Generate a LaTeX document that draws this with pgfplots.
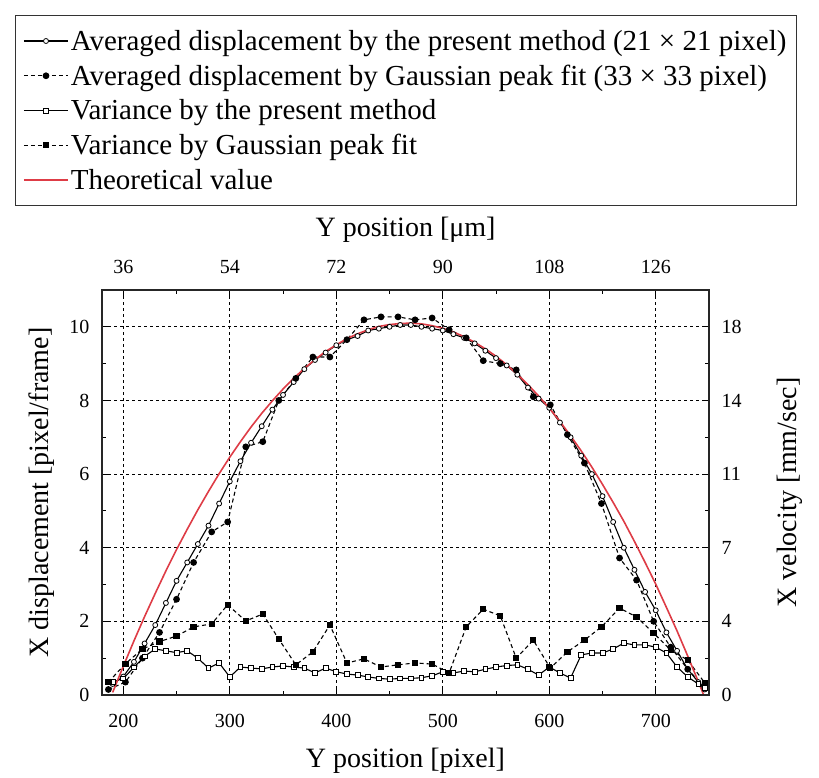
\documentclass[border=0pt]{standalone}
\usepackage{fontspec}
\setmainfont{Liberation Serif}
\usepackage{pgfplots}
\pgfplotsset{compat=1.18}
\definecolor{theo}{RGB}{222,60,70}

\begin{document}
\begin{tikzpicture}
\useasboundingbox (0,0) rectangle (819pt,778pt);
\pgfplotsset{
  common/.style={
    at={(102pt,83pt)}, anchor=south west,
    scale only axis, width=607pt, height=405pt,
    xmin=180, xmax=750, ymin=0, ymax=11,
    xtick={200,300,...,700}, ytick={0,2,...,10},
    minor x tick num=1, minor y tick num=1,
    tick align=inside,
    major tick length=6pt, minor tick length=4pt,
    every tick/.style={black, line width=1pt},
    axis line style={line width=1.5pt, black!85},
    tick label style={font=\fontsize{20}{23}\selectfont},
    label style={font=\fontsize{28}{32}\selectfont},
    /pgf/number format/assume math mode=true,
  },
}
\begin{axis}[common,
  xtick pos=bottom, ytick pos=left,
  xticklabel shift=16pt, yticklabel shift=9pt,
  grid=major,
  major grid style={black, line width=0.8pt, dash pattern=on 3pt off 3pt},
  xlabel={Y position [pixel]},
  ylabel={X displacement [pixel/frame]},
  xlabel style={at={(axis description cs:0.5,-0.162)}, anchor=center},
  ylabel style={at={(axis description cs:-0.099,0.5)}, anchor=center},
  legend cell align=left,
  legend style={at={(axis description cs:-0.144,1.68)}, anchor=north west,
    draw=black!80, line width=1.2pt,
    font=\fontsize{29}{32}\selectfont, inner xsep=8pt, inner ysep=13pt,
    row sep=9pt},
  legend image code/.code={
    \draw[mark repeat=2, mark phase=2] plot coordinates {(0pt,0pt) (22pt,0pt) (44pt,0pt)};},
]
\addplot[black, line width=1.1pt, mark=*, mark size=2.5pt, mark options={solid, fill=white, line width=0.8pt}]
coordinates {
(190,0.3) (200,0.5) (210,0.9) (220,1.4) (230,1.9) (240,2.5) (250,3.1) (260,3.6)
(270,4.1) (280,4.6) (290,5.2) (300,5.8) (310,6.35) (320,6.85) (330,7.3) (340,7.75)
(350,8.15) (360,8.5) (370,8.85) (380,9.1) (390,9.3) (400,9.5) (410,9.65) (420,9.75)
(430,9.9) (440,9.95) (450,10.0) (460,10.05) (470,10.05) (480,10.0) (490,9.95) (500,9.9)
(510,9.8) (520,9.7) (530,9.55) (540,9.35) (550,9.15) (560,8.95) (570,8.7) (580,8.35)
(590,8.05) (600,7.8) (610,7.4) (620,7.0) (630,6.5) (640,6.0) (650,5.4) (660,4.7)
(670,4.0) (680,3.4) (690,2.8) (700,2.3) (710,1.7) (720,1.2) (730,0.7) (740,0.35) (746,0.15)
};
\addlegendentry{Averaged displacement by the present method (21 × 21 pixel)}

\addplot[black, line width=1.1pt, dash pattern=on 4pt off 3pt, mark=*, mark size=2.8pt, mark options={solid, fill=black}]
coordinates {
(186,0.15) (202,0.35) (218,1.0) (234,1.7) (250,2.6) (266,3.6) (283,4.43) (298,4.7)
(315,6.74) (331,6.88) (346,8.0) (362,8.6) (378,9.18) (394,9.18) (410,9.65) (426,10.19)
(442,10.27) (458,10.27) (474,10.19) (490,10.24) (506,9.92) (522,9.70) (538,9.08) (554,9.0)
(569,8.83) (585,8.1) (601,7.88) (617,7.07) (633,6.3) (649,5.2) (666,3.72) (682,3.12)
(698,2.0) (714,1.3) (730,0.7) (746,0.2)
};
\addlegendentry{Averaged displacement by Gaussian peak fit (33 × 33 pixel)}

\addplot[black, line width=1.1pt, mark=square*, mark size=2.4pt, mark options={solid, fill=white, line width=0.8pt}]
coordinates {
(190,0.35) (200,0.45) (210,0.75) (220,1.05) (230,1.25) (240,1.2) (250,1.15) (260,1.2)
(270,1.0) (280,0.73) (290,0.87) (300,0.49) (310,0.76) (320,0.73) (330,0.71) (340,0.76)
(350,0.79) (360,0.76) (370,0.73) (380,0.6) (390,0.73) (400,0.63) (410,0.57) (420,0.54)
(430,0.49) (440,0.45) (450,0.43) (460,0.45) (470,0.45) (480,0.47) (490,0.52) (500,0.63)
(510,0.6) (520,0.65) (530,0.63) (540,0.7) (550,0.76) (560,0.8) (570,0.82) (580,0.7)
(590,0.54) (600,0.76) (610,0.6) (620,0.46) (630,1.09) (640,1.14) (650,1.14) (660,1.25)
(670,1.41) (680,1.36) (690,1.36) (700,1.3) (710,1.14) (720,0.76) (730,0.49) (740,0.3) (746,0.19)
};
\addlegendentry{Variance by the present method}

\addplot[black, line width=1.1pt, dash pattern=on 4pt off 3pt, mark=square*, mark size=2.6pt, mark options={solid, fill=black}]
coordinates {
(186,0.35) (202,0.85) (218,1.25) (234,1.45) (250,1.6) (266,1.85) (283,1.93) (298,2.45)
(315,2.01) (331,2.2) (346,1.52) (362,0.82) (378,1.17) (394,1.90) (410,0.87) (426,0.98)
(442,0.76) (458,0.82) (474,0.87) (490,0.84) (506,0.6) (522,1.85) (538,2.33) (554,2.15)
(569,1.0) (585,1.49) (601,0.73) (617,1.17) (633,1.49) (649,1.85) (666,2.36) (682,2.12)
(698,1.68) (714,1.22) (730,0.95) (746,0.33)
};
\addlegendentry{Variance by Gaussian peak fit}

\addplot[theo, line width=1.6pt, no marks]
coordinates {
(190,0.07) (200,0.78) (210,1.47) (220,2.13) (230,2.76) (240,3.37) (250,3.95) (260,4.50)
(270,5.03) (280,5.53) (290,6.01) (300,6.46) (310,6.88) (320,7.28) (330,7.65) (340,7.99)
(350,8.31) (360,8.60) (370,8.87) (380,9.11) (390,9.33) (400,9.51) (410,9.68) (420,9.81)
(430,9.92) (440,10.01) (450,10.06) (460,10.09) (470,10.10) (480,10.08) (490,10.03) (500,9.96)
(510,9.86) (520,9.73) (530,9.58) (540,9.40) (550,9.20) (560,8.97) (570,8.71) (580,8.43)
(590,8.12) (600,7.79) (610,7.43) (620,7.04) (630,6.63) (640,6.19) (650,5.72) (660,5.23)
(670,4.72) (680,4.17) (690,3.60) (700,3.01) (710,2.38) (720,1.74) (730,1.06) (740,0.36) (745,0.0)
};
\addlegendentry{Theoretical value}
\end{axis}

\begin{axis}[common,
  xtick pos=top, ytick pos=right,
  xticklabel pos=top, yticklabel pos=right,
  xticklabel shift=13pt, yticklabel shift=9pt,
  xticklabels={36,54,72,90,108,126},
  yticklabels={0,4,7,11,14,18},
  xlabel={Y position [μm]},
  ylabel={X velocity [mm/sec]},
  xlabel style={at={(axis description cs:0.5,1.148)}, anchor=center},
  ylabel style={at={(axis description cs:1.133,0.5)}, anchor=center},
]
\end{axis}
\end{tikzpicture}
\end{document}
